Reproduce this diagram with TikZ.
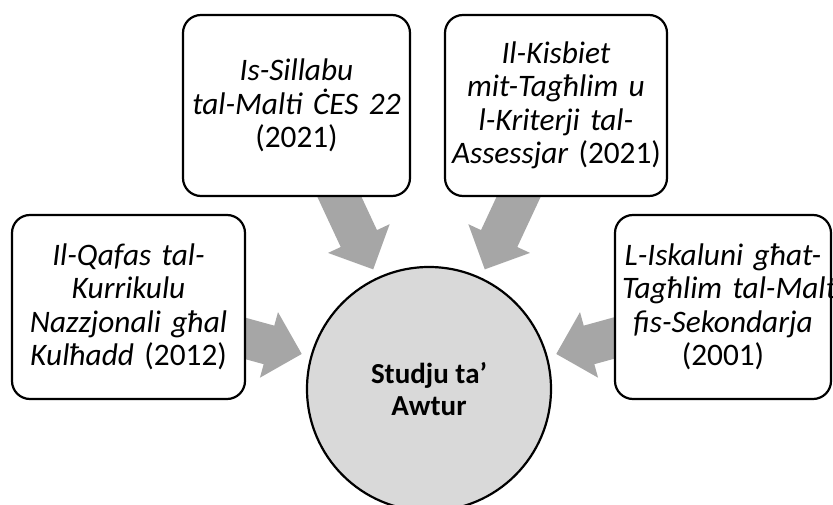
\documentclass[tikz,border=0pt]{standalone}
\usepackage{fontspec}
\setmainfont{Carlito}
\definecolor{arrowgray}{HTML}{A6A6A6}
\definecolor{circgray}{HTML}{D9D9D9}
\begin{document}
\begin{tikzpicture}[x=1pt,y=1pt,
  srcbox/.style={draw=black, line width=2.2pt, fill=white, rounded corners=18pt,
    inner xsep=7pt, inner ysep=0pt, align=center,
    font=\fontsize{31.3}{33.5}\selectfont},
  bigarrow/.style={fill=arrowgray, draw=none},
  hub/.style={circle, draw=black, line width=2.2pt, fill=circgray,
    minimum size=244pt, inner sep=0pt, align=center,
    font=\fontsize{29}{32}\selectfont\bfseries}]
\useasboundingbox (0,0) rectangle (833,504);
\clip (0,0) rectangle (833,504);
\coordinate (c) at (429,115);
% converging arrows
\foreach \a in {115,65,164.6,15.4}{
  \fill[bigarrow, shift={(c)}, rotate=\a]
    (132,0) -- (166,34) -- (166,20) -- (240,20) -- (240,-20) -- (166,-20) -- (166,-34) -- cycle;
}
% source boxes
\node[srcbox, minimum width=233pt, minimum height=184pt, text width=219pt] (lbox) at (128.5,197)
  {\mbox{\itshape Il-Qafas tal-}\\ \mbox{\itshape Kurrikulu}\\ \mbox{\itshape Nazzjonali għal}\\ \mbox{\itshape Kulħadd \upshape(2012)}};
\node[srcbox, minimum width=227pt, minimum height=181pt, text width=213pt] (tlbox) at (296.5,398.5)
  {\mbox{\itshape Is-Sillabu}\\ \mbox{\itshape tal-Malti ĊES 22}\\ \mbox{(2021)}};
\node[srcbox, minimum width=222pt, minimum height=181pt, text width=208pt] (trbox) at (556,398.5)
  {\mbox{\itshape Il-Kisbiet}\\ \mbox{\itshape mit-Tagħlim u}\\ \mbox{\itshape l-Kriterji tal-}\\ \mbox{\itshape Assessjar \upshape(2021)}};
\node[srcbox, minimum width=216pt, minimum height=184pt, text width=202pt] (rbox) at (723,197)
  {\mbox{\itshape L-Iskaluni għat-}\\ \mbox{\itshape Tagħlim tal-Malti}\\ \mbox{\itshape fis-Sekondarja}\\ \mbox{(2001)}};
% hub
\node[hub] (hubc) at (c) {Studju ta’\\ Awtur};
\end{tikzpicture}
\end{document}
